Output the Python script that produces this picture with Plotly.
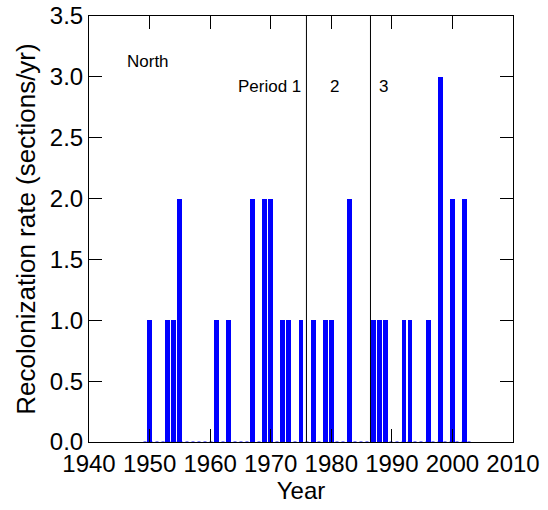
import plotly.graph_objects as go

years = [1950, 1953, 1954, 1955, 1961, 1963, 1967, 1969, 1970, 1972, 1973, 1975,
         1977, 1979, 1980, 1983, 1987, 1988, 1989, 1992, 1993, 1996, 1998, 2000, 2002]
rates = [1, 1, 1, 2, 1, 1, 2, 2, 2, 1, 1, 1,
         1, 1, 1, 2, 1, 1, 1, 1, 1, 1, 3, 2, 2]
baseline_years = list(range(1949, 2004))
baseline_vals = [0] * len(baseline_years)
period_bounds = [1975.9, 1986.47]
x_ticks = [1940, 1950, 1960, 1970, 1980, 1990, 2000, 2010]
y_ticks = [0.0, 0.5, 1.0, 1.5, 2.0, 2.5, 3.0, 3.5]

FONT = "Arial, 'Liberation Sans', sans-serif"

fig = go.Figure()
fig.add_trace(go.Scatter(x=baseline_years, y=baseline_vals, mode="lines",
                         line=dict(color="#0000FF", width=1, dash="dot"),
                         hoverinfo="skip", showlegend=False))
fig.add_trace(go.Bar(x=years, y=rates, width=0.8,
                     marker=dict(color="#0000FF", line=dict(width=0)),
                     showlegend=False))

for xb in period_bounds:
    fig.add_shape(type="line", x0=xb, x1=xb, y0=0, y1=1, yref="paper",
                  line=dict(color="black", width=1))

fig.add_annotation(x=1949.8, y=3.13, text="North", showarrow=False,
                   font=dict(size=17, color="black", family=FONT))
fig.add_annotation(x=1975.4, y=2.92, text="Period 1", showarrow=False, xanchor="right",
                   font=dict(size=17, color="black", family=FONT))
fig.add_annotation(x=1980.6, y=2.92, text="2", showarrow=False,
                   font=dict(size=17, color="black", family=FONT))
fig.add_annotation(x=1988.7, y=2.92, text="3", showarrow=False,
                   font=dict(size=17, color="black", family=FONT))

axis_common = dict(showline=True, linecolor="black", linewidth=1, mirror="ticks",
                   ticks="inside", ticklen=13, tickwidth=1, tickcolor="black",
                   showgrid=False, zeroline=False, automargin=False,
                   tickfont=dict(size=24, color="black", family=FONT))

fig.update_xaxes(range=[1940, 2010], tickvals=x_ticks, ticktext=[str(v) for v in x_ticks],
                 title_text="Year", title_standoff=2,
                 title_font=dict(size=24, color="black", family=FONT), **axis_common)
fig.update_yaxes(range=[0, 3.5], tickvals=y_ticks, ticktext=[f"{v:.1f}" for v in y_ticks],
                 title_text="Recolonization rate (sections/yr)", title_standoff=6,
                 title_font=dict(size=26, color="black", family=FONT), **axis_common)

fig.update_layout(width=548, height=510, margin=dict(l=89, r=35, t=16, b=68),
                  plot_bgcolor="white", paper_bgcolor="white", bargap=0,
                  font=dict(family=FONT, color="black"))

fig.write_html("out.html")
